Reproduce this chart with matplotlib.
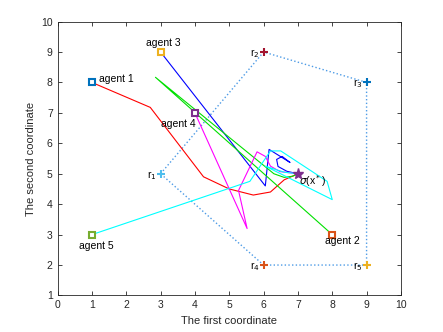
import matplotlib
matplotlib.use("Agg")
import matplotlib.pyplot as plt
import numpy as np

plt.rcParams['font.family'] = ['Liberation Sans', 'DejaVu Sans']

# agents (start points) and reference points
agent_names = ["agent 1", "agent 2", "agent 3", "agent 4", "agent 5"]
agent_x = [1, 8, 3, 4, 1]
agent_y = [8, 3, 9, 7, 3]
agent_colors = ["#0072BD", "#D95319", "#EDB120", "#7E2F8E", "#77AC30"]

ref_names = ["r$_1$", "r$_2$", "r$_3$", "r$_4$", "r$_5$"]
ref_x = [3, 6, 9, 6, 9]
ref_y = [5, 9, 8, 2, 2]
ref_colors = ["#4DBEEE", "#A2142F", "#0072BD", "#D95319", "#EDB120"]

# boundary order r1 -> r2 -> r3 -> r5 -> r4 -> r1
poly_order = [0, 1, 2, 4, 3, 0]

opt_x, opt_y = 7.0, 5.0

# trajectories
traj_red_x = [1.0, 2.7, 4.25, 5.0, 5.7, 6.2, 6.6, 7.0]
traj_red_y = [8.0, 7.18, 4.9, 4.5, 4.3, 4.4, 4.8, 5.0]

traj_blue_x = [3.0, 6.05, 6.16, 6.77, 6.54, 6.38, 6.42, 6.68, 7.0]
traj_blue_y = [9.0, 4.6, 5.8, 5.37, 5.57, 5.47, 5.24, 5.08, 5.0]

traj_green_x = [8.0, 2.85, 6.3, 6.6, 6.85, 7.0]
traj_green_y = [3.0, 8.17, 5.0, 4.88, 4.92, 5.0]

traj_magenta_x = [4.0, 5.52, 5.27, 5.81, 6.05, 6.2, 6.48, 7.0]
traj_magenta_y = [7.0, 3.2, 4.45, 5.72, 5.57, 5.25, 5.07, 5.0]

traj_cyan_x = [1.0, 5.6, 6.2, 6.5, 7.85, 8.0, 6.05, 6.6, 7.0]
traj_cyan_y = [3.0, 4.75, 5.75, 5.75, 4.75, 4.15, 5.25, 5.05, 5.0]

fig = plt.figure(figsize=(4.43, 3.32), dpi=100)
ax = fig.add_axes([0.13, 0.11, 0.775, 0.825])

ax.plot([ref_x[i] for i in poly_order], [ref_y[i] for i in poly_order],
        ':', color="#4D9BE6", lw=1.0)

ax.plot(traj_red_x, traj_red_y, color="red", lw=0.8)
ax.plot(traj_blue_x, traj_blue_y, color="blue", lw=0.8)
ax.plot(traj_green_x, traj_green_y, color="#00E000", lw=0.8)
ax.plot(traj_magenta_x, traj_magenta_y, color="magenta", lw=0.8)
ax.plot(traj_cyan_x, traj_cyan_y, color="cyan", lw=0.8)

for x, y, c in zip(agent_x, agent_y, agent_colors):
    ax.plot(x, y, 's', ms=4.5, mfc="white", mec=c, mew=1.5)
for x, y, c in zip(ref_x, ref_y, ref_colors):
    ax.plot(x, y, '+', ms=6, mec=c, mew=1.5)
ax.plot(opt_x, opt_y, '*', ms=8, color="#7E2F8E")

fs = 7.5
ax.text(1.22, 8.1, agent_names[0], fontsize=fs, va="center")
ax.text(8.3, 2.78, agent_names[1], fontsize=fs, ha="center", va="center")
ax.text(3.08, 9.3, agent_names[2], fontsize=fs, ha="center", va="center")
ax.text(3.52, 6.62, agent_names[3], fontsize=fs, ha="center", va="center")
ax.text(1.13, 2.64, agent_names[4], fontsize=fs, ha="center", va="center")
for x, y, s in zip(ref_x, ref_y, ref_names):
    ax.text(x - 0.12, y - 0.05, s, fontsize=fs, ha="right", va="center")
ax.text(7.02, 4.76, r"$\sigma$(x$^*$)", fontsize=fs, va="center")

ax.set_xlim(0, 10)
ax.set_ylim(1, 10)
ax.set_xticks(np.arange(0, 11))
ax.set_yticks(np.arange(1, 11))
ax.tick_params(direction="in", top=True, right=True, labelsize=fs,
               length=3, width=0.6, colors="#262626")
for sp in ax.spines.values():
    sp.set_linewidth(0.6)
    sp.set_color("#262626")
ax.set_xlabel("The first coordinate", fontsize=8, color="#262626")
ax.set_ylabel("The second coordinate", fontsize=8, color="#262626")

fig.savefig("out.png", dpi=100)
